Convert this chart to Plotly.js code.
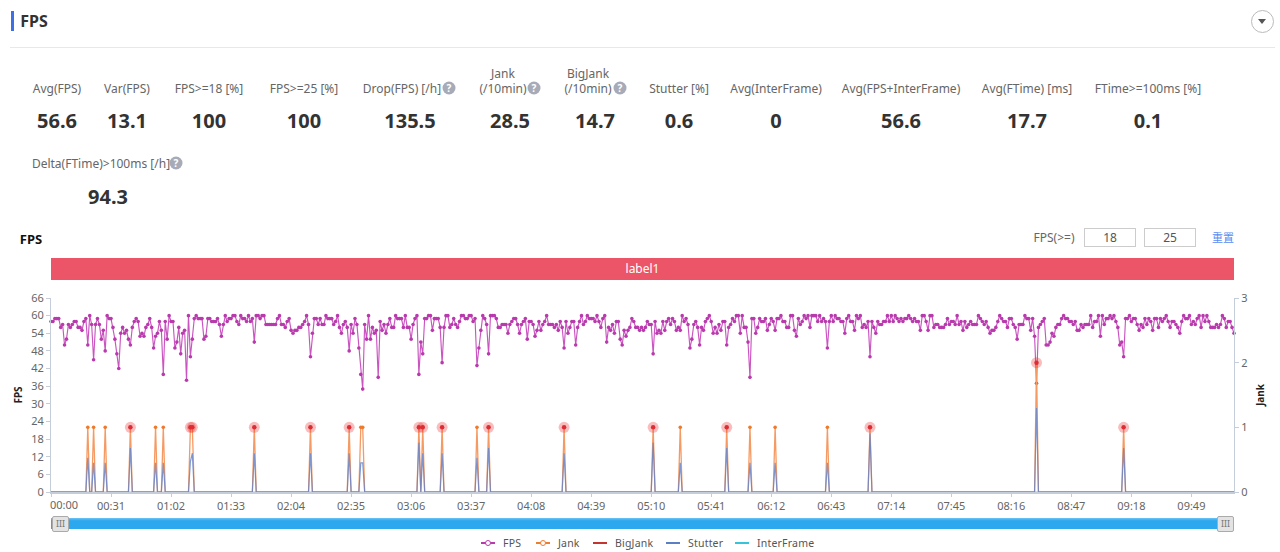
<!DOCTYPE html>
<html><head><meta charset="utf-8">
<script src="https://cdn.plot.ly/plotly-3.0.1.min.js"></script>
<style>
html,body{margin:0;padding:0;background:#fff;width:1280px;height:552px;overflow:hidden;font-family:"Noto Sans","Noto Sans CJK SC",sans-serif}
#chart{position:absolute;left:0;top:0;width:1280px;height:552px}
.a{position:absolute;white-space:nowrap}
.c{transform:translate(-50%,-50%)}
.lab{font-size:12px;color:#666}
.val{font-size:20px;font-weight:700;color:#333}
.q{width:13px;height:13px;border-radius:50%;background:#a7abb8;color:#fff;font-size:10px;font-weight:700;line-height:13px;text-align:center}
.box{border:1px solid #ccc;width:50px;height:17px;line-height:17px;text-align:center;font-size:12px;color:#555;background:#fff}
.hd{background:#e3e3e3;border:1px solid #aaa;border-radius:2px;width:15px;height:14px;line-height:13px;text-align:center;font-size:9px;color:#777;box-sizing:content-box}
</style></head><body>
<div id="chart"></div>
<div id="over"></div>
<script>
const fpsA=[58,58,59,59,59,56,57,50,52,57,56,57,58,58,56,56,55,58,59,50,60,57,45,57,59,57,52,55,48,60,59,59,56,52,47,42,54,56,54,55,52,50,56,58,59,58,53,54,53,56,57,59,56,49,53,54,58,55,40,58,52,60,58,58,49,51,56,47,54,55,38,60,46,52,59,60,59,59,59,52,53,59,59,58,58,58,59,57,53,57,60,58,59,59,60,60,58,57,60,59,59,58,60,58,59,51,60,60,59,60,60,57,57,57,57,57,57,59,60,57,57,56,58,59];
const fpsB=[55,54,55,55,56,56,57,58,60,57,46,54,59,59,57,59,57,57,60,59,59,59,57,58,60,56,54,57,58,56,48,57,54,59,57,49,40,35,57,52,60,52,56,54,55,39,58,55,57,54,57,59,56,56,60,59,59,59,56,60,56,56,52,57,59,60,40,51,47,59,59,60,60,55,59,59,59,56,44,56,60,60,56,57,59,57,56,58,60,60,59,59,60,60,58,59,43,49,55,60,59,57,47,60,60,60,59,56,56,57,57,57,54,57,58,59,59,57,54,57,58,59,52,58];
const fpsC=[58,57,53,55,58,55,57,58,60,57,57,57,56,57,55,58,56,49,58,54,56,58,58,50,56,58,60,57,58,60,59,59,59,58,60,58,56,59,60,51,56,55,57,54,58,58,52,50,55,53,55,56,59,58,56,56,55,56,55,56,58,57,57,47,58,54,55,54,58,55,58,59,57,59,58,55,56,55,60,58,59,57,49,52,57,58,56,50,56,55,58,59,60,58,54,56,54,57,55,58,58,50,56,57,59,58,60,60,54,60,56,56,51,39,59,59,54,56,59,58,58,59,55,57];
const fpsD=[59,58,55,59,59,60,58,58,56,56,60,60,55,53,59,57,58,60,59,60,56,60,60,60,58,60,58,59,58,49,58,60,58,60,59,59,58,58,54,59,60,58,58,55,60,59,60,56,57,56,58,46,58,56,54,58,57,57,58,58,60,58,60,58,60,59,58,59,58,59,59,60,59,58,59,58,58,55,60,60,58,55,60,60,56,57,57,56,56,56,57,59,57,58,58,57,60,57,58,55,58,56,57,58,57,57,57,60,59,58,57,58,56,54,55,55,56,58,60,59,58,58,56,59];
const fpsE=[59,57,56,52,57,57,57,60,59,59,55,59,53,37,56,57,58,59,50,50,51,54,53,56,57,57,59,60,59,59,58,58,57,58,55,55,57,56,57,57,57,60,56,58,58,60,53,60,57,59,59,60,59,60,58,56,50,51,46,59,59,60,58,59,59,57,55,57,56,59,57,59,58,55,59,59,56,59,58,59,60,58,56,58,58,57,56,54,58,60,59,59,60,57,58,57,59,60,56,60,58,60,58,56,56,56,57,56,57,60,59,56,58,58,56,54];
const fps=[...fpsA,...fpsB,...fpsC,...fpsD,...fpsE];
const seconds=fps.map((_,i)=>i);

const spikeAt=[19,22,28,41,54,58,72,73,105,134,154,160,161,190,192,202,220,226,265,311,325,349,361,374,401,423,509,554];
const jankAt=[1,1,1,1,1,1,1,1,1,1,1,1,1,1,1,1,1,1,1,1,1,1,1,1,1,1,2,1];
const stutterAt=[.53,.45,.45,.68,.45,.45,.47,.6,.6,.6,.6,.45,.45,.76,.6,.6,.53,.68,.6,.76,.45,.68,.45,.45,.45,.91,1.3,.68];
const haloAt=[41,72,73,105,134,154,190,192,202,226,265,311,349,423,509,554];
const plainAt=[19,22,28,54,58,160,161,220,325,361,374,401];

const tickSeconds=[0,31,62,93,124,155,186,217,248,279,310,341,372,403,434,465,496,527,558,589];
const tickLabels=['','00:31','01:02','01:33','02:04','02:35','03:06','03:37','04:08','04:39','05:10','05:41','06:12','06:43','07:14','07:45','08:16','08:47','09:18','09:49'];
const fpsTicks=[0,6,12,18,24,30,36,42,48,54,60,66];
const jankTicks=[0,1,2,3];

const jank=seconds.map(()=>0), stutter=seconds.map(()=>0), bigJank=seconds.map(()=>0), interFrame=seconds.map(()=>0);
spikeAt.forEach((s,k)=>{jank[s]=jankAt[k];stutter[s]=stutterAt[k];});

const c={fps:'#ca55c1',fpsM:'#b83aac',jank:'#f59a62',big:'#c23531',st:'rgba(95,130,205,.8)',inter:'#3cc6dc'};
const traces=[
 {name:'FPS',x:seconds,y:fps,mode:'lines+markers',line:{color:c.fps,width:1.15},marker:{color:c.fpsM,size:3.6},yaxis:'y',cliponaxis:false},
 {name:'Jank',x:seconds,y:jank,mode:'lines',line:{color:c.jank,width:1.3},yaxis:'y2',cliponaxis:false},
 {name:'BigJank',x:seconds,y:bigJank,mode:'lines',line:{color:c.big,width:1.2},opacity:.3,yaxis:'y2',cliponaxis:false},
 {name:'Stutter',x:seconds,y:stutter,mode:'lines',line:{color:c.st,width:1.2},yaxis:'y2',cliponaxis:false},
 {name:'InterFrame',x:seconds,y:interFrame,mode:'lines',line:{color:c.inter,width:1.2},opacity:.2,yaxis:'y2',cliponaxis:false},
 {x:plainAt,y:plainAt.map(s=>jank[s]),mode:'markers',marker:{color:'#f07a2c',size:3.6},yaxis:'y2',showlegend:false,hoverinfo:'skip',cliponaxis:false},
 {x:haloAt,y:haloAt.map(s=>jank[s]),mode:'markers',marker:{color:'rgba(235,50,50,.32)',size:11},yaxis:'y2',showlegend:false,hoverinfo:'skip',cliponaxis:false},
 {x:haloAt,y:haloAt.map(s=>jank[s]),mode:'markers',marker:{color:'#dc2c34',size:4.5},yaxis:'y2',showlegend:false,hoverinfo:'skip',cliponaxis:false}
];
const axisCol='#c5cdda';
const layout={
 width:1280,height:552,margin:{l:51,r:46,t:298,b:60,pad:0,autoexpand:false},paper_bgcolor:'rgba(0,0,0,0)',plot_bgcolor:'rgba(0,0,0,0)',
 font:{family:'"Noto Sans",sans-serif',size:11,color:'#666'},showlegend:false,
 xaxis:{range:[0,611],tickmode:'array',tickvals:tickSeconds,ticktext:tickLabels,showgrid:false,zeroline:false,showline:true,linecolor:axisCol,linewidth:1.5,ticks:'outside',ticklen:3,tickcolor:axisCol,tickfont:{size:11,color:'#666'},fixedrange:true},
 yaxis:{range:[0,66],tickmode:'array',tickvals:fpsTicks,showgrid:false,zeroline:false,showline:true,linecolor:axisCol,ticks:'outside',ticklen:4,tickcolor:axisCol,tickfont:{size:11,color:'#666'},title:{text:'FPS',font:{size:10,color:'#222',weight:700},standoff:6},fixedrange:true},
 yaxis2:{range:[0,3],overlaying:'y',side:'right',tickmode:'array',tickvals:jankTicks,showgrid:false,zeroline:false,showline:true,linecolor:axisCol,ticks:'outside',ticklen:4,tickcolor:axisCol,tickfont:{size:11,color:'#666'},title:{text:'Jank',font:{size:10,color:'#222',weight:700},standoff:10},fixedrange:true},
 annotations:[{text:'00:00',xref:'paper',yref:'paper',x:13/1183,y:-12/194,xanchor:'center',yanchor:'middle',showarrow:false,font:{size:11,color:'#666'}}]
};
Plotly.newPlot('chart',traces,layout,{displayModeBar:false,staticPlot:true});

const over=document.getElementById('over');
function el(cls,x,y,txt,style){const d=document.createElement('div');d.className='a '+cls;d.style.left=x+'px';d.style.top=y+'px';if(txt!==undefined)d.textContent=txt;if(style)d.style.cssText+=';'+style;over.appendChild(d);return d;}
el('',11,11,undefined,'width:3px;height:20px;background:#3f6fe6');
el('c',34,21,'FPS','font-size:16px;font-weight:700;color:#333');
el('',10,47,undefined,'width:1265px;height:1px;background:#e8e8e8');
el('',1251,10,undefined,'width:21px;height:21px;border:1px solid #bbb;border-radius:50%;box-sizing:content-box');
el('',1258,19,undefined,'width:0;height:0;border-left:4px solid transparent;border-right:4px solid transparent;border-top:5px solid #555');
const stats=[['Avg(FPS)',57,88,'56.6',57,120],['Var(FPS)',127,88,'13.1',127,120],['FPS>=18 [%]',209,88,'100',209,120],['FPS>=25 [%]',304,88,'100',304,120],['Drop(FPS) [/h]',402,88,'135.5',410,120],['(/10min)',503,88,'28.5',510,120],['(/10min)',588,88,'14.7',595,120],['Stutter [%]',679,88,'0.6',679,120],['Avg(InterFrame)',776,88,'0',776,120],['Avg(FPS+InterFrame)',901,88,'56.6',901,120],['Avg(FTime) [ms]',1027,88,'17.7',1027,120],['FTime>=100ms [%]',1148,88,'0.1',1148,120],['Delta(FTime)>100ms [/h]',101,163,'94.3',108,196]];
stats.forEach(s=>{el('c lab',s[1],s[2],s[0]);el('c val',s[4],s[5],s[3]);});
el('c lab',503,73,'Jank');el('c lab',588,73,'BigJank');
[[449,88],[534,88],[620,88],[176,163]].forEach(p=>el('c q',p[0],p[1],'?'));
el('c',31,239,'FPS','font-size:13px;font-weight:700;color:#111');
el('c lab',1054,237,'FPS(>=)');
el('box',1084,228,'18');el('box',1144,228,'25');
el('c',1223,237,'重置','font-size:11px;color:#5b8def;font-family:"Noto Sans CJK SC"');
el('',51,258,'label1','width:1183px;height:22px;line-height:22px;background:#ec5568;color:#fff;font-size:12px;text-align:center');
el('',51,518,undefined,'width:1183px;height:11px;background:linear-gradient(#6fc3f3,#2ca8ee 25%,#2ca8ee)');
el('hd',52,516,'III');el('hd',1217,516,'III');
const legendNames=['FPS','Jank','BigJank','Stutter','InterFrame'];
const legendColors=['#b83aac','#ee7d31','#c23531','#5b7fc4','#35c4d8'];
const legendIcon=[481,536,593,666,735];
const legendHollow=[true,true,false,false,false];
legendNames.forEach((n,k)=>{
 el('',legendIcon[k],542,undefined,'width:14px;height:2px;background:'+legendColors[k]);
 if(legendHollow[k]) el('',legendIcon[k]+4,540,undefined,'width:4px;height:4px;border-radius:50%;background:#fff;border:1px solid '+legendColors[k]+';box-sizing:content-box');
 el('',legendIcon[k]+22,543,n,'transform:translateY(-50%);font-size:10.5px;color:#555;letter-spacing:.2px');
});
</script></body></html>
